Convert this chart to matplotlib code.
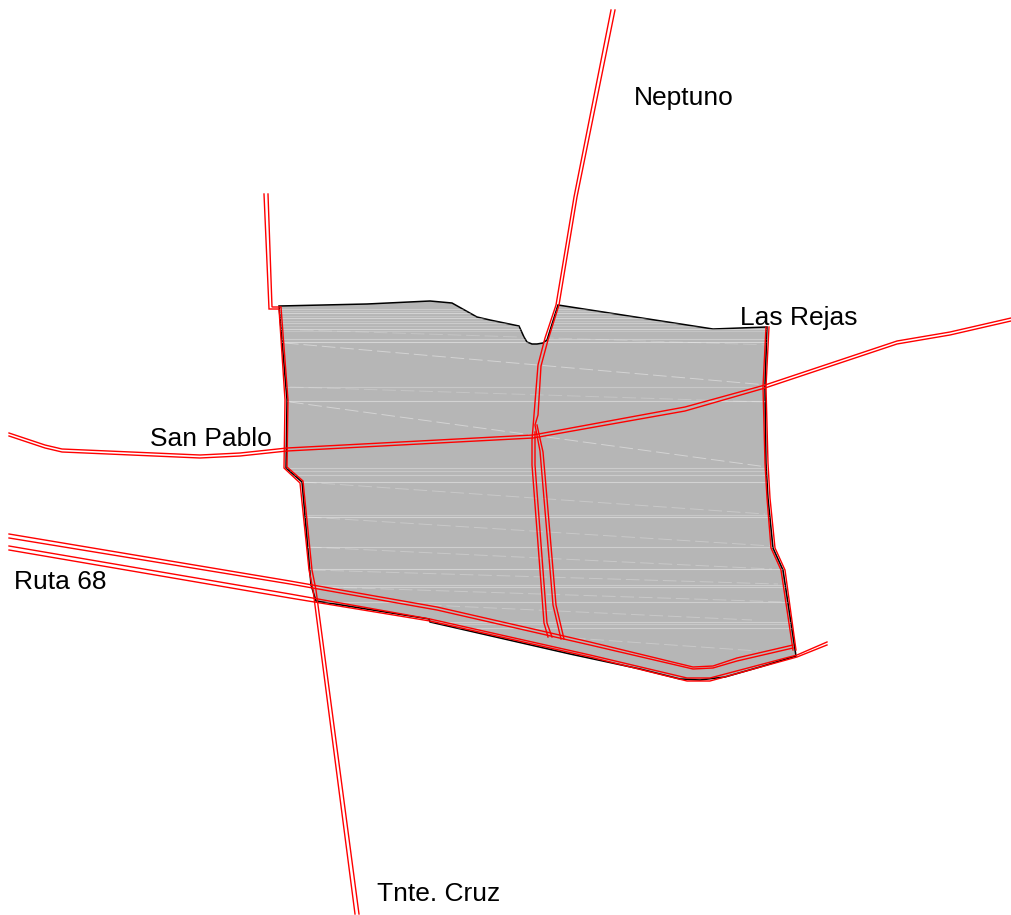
import numpy as np
import matplotlib.pyplot as plt
from matplotlib.patches import Polygon

plt.rcParams['font.family'] = ['Liberation Sans', 'DejaVu Sans']

# parcel outline
parcel = [(279,306),(367,304),(430,301),(452,303),(477,317),(490,320),(519,326),(524,337),(527,342),
          (532,344),(537,344),(543,343),(547,340),(558,305),(713,329),(767,327),(765,387),(766,463),
          (768,498),(773,548),(783,570),(796,656),(760,667),(725,677),(700,680),(680,679),(640,669),
          (570,654),(430,622),(429,619),(316,601),(311,585),(302,482),(286,468),(287,400)]

# roads: every road is two thin parallel lines
neptuno_a = [(611,10),(574,197),(556,305),(545,338),(538,365),(534,415),(532,440),(532,465),(544,623),(548,637)]
neptuno_b = [(615,10),(577,197),(559,305),(548,340),(541,366),(538,415),(535,425),(540,451),(542,475),(553,605),(561,639)]
neptuno_c = [(535,432),(535,465),(547,623),(552,637)]
neptuno_d = [(537,425),(543,452),(545,475),(556,605),(564,639)]
san_pablo_a = [(9,433),(45,445),(62,449),(200,455),(240,453),(287,448),(533,435),(685,407),(765,385),(897,341),(950,332),(1011,318)]
san_pablo_b = [(9,436),(45,448),(62,452),(200,458),(240,456),(287,451),(533,438),(685,411),(765,388),(897,344),(950,335),(1011,321)]
ruta_up_a = [(9,534),(290,581),(437,607),(590,642),(693,667),(713,666),(737,658),(793,645)]
ruta_up_b = [(9,538),(290,584),(437,610),(590,645),(693,669),(713,668),(737,661),(793,648)]
ruta_lo_a = [(9,546),(290,594),(430,619),(590,655),(687,678),(710,678),(797,655),(827,642)]
ruta_lo_b = [(9,550),(290,598),(430,621),(590,657),(687,681),(710,681),(797,657),(827,645)]
west_a = [(264,194),(269,309),(279,309),(285,400),(284,468),(300,483),(309,570),(313,590),(355,914)]
west_b = [(268,194),(272,307),(281,307),(288,400),(287,467),(303,481),(312,570),(316,590),(359,914)]
east_a = [(766,327),(763,387),(765,463),(767,498),(771,548),(781,570),(793,650)]
east_b = [(769,327),(766,387),(768,463),(770,498),(775,548),(785,570),(796,650)]
roads = [neptuno_a, neptuno_b, neptuno_c, neptuno_d, san_pablo_a, san_pablo_b,
         ruta_up_a, ruta_up_b, ruta_lo_a, ruta_lo_b, west_a, west_b, east_a, east_b]

# pale hatching gaps inside the parcel
stripe_y = [309,311,313,316,318,321,323,326,329,331,339,342,387,401,468,471,475,482,
            515,517,547,569,585,587,602,622,624,628]
stripe_alpha = [.3,.2,.4,.2,.4,.2,.3,.2,.4,.2,.3,.45,.25,.4,.3,.25,.3,.4,.25,.4,.35,.4,.3,.35,.35,.35,.25,.35]
slants = [[(285,343),(767,385)], [(290,402),(767,467)], [(290,387),(765,402)], [(300,330),(770,345)],
          [(303,482),(765,514)], [(308,517),(772,546)], [(308,547),(772,569)], [(312,570),(778,584)],
          [(325,587),(785,602)], [(428,605),(752,620)], [(572,638),(758,651)]]
slant_alpha = [.4, .4, .2, .2, .25, .25, .25, .25, .25, .25, .25]

place_names = ['Neptuno', 'Las Rejas', 'San Pablo', 'Ruta 68', 'Tnte. Cruz']
name_x = [634, 740, 150, 14, 377]
name_y = [105, 325, 446, 589, 901]

fig = plt.figure(figsize=(10.11, 9.15), dpi=100)
ax = fig.add_axes([0, 0, 1, 1])
ax.set_xlim(0, 1011)
ax.set_ylim(915, 0)
ax.axis('off')

patch = Polygon(parcel, closed=True, facecolor='#b6b6b6', edgecolor='black', linewidth=1.1, zorder=1)
ax.add_patch(patch)

for y, a in zip(stripe_y, stripe_alpha):
    line, = ax.plot([270, 800], [y, y], color='white', lw=0.8, alpha=a, zorder=2)
    line.set_clip_path(patch)

for s, a in zip(slants, slant_alpha):
    s = np.array(s)
    line, = ax.plot(s[:, 0], s[:, 1], color='white', lw=0.7, alpha=a, dashes=(14, 5), zorder=2)
    line.set_clip_path(patch)

for r in roads:
    r = np.array(r)
    ax.plot(r[:, 0], r[:, 1], color='#ff0000', lw=1.0, zorder=3, solid_joinstyle='miter')

for name, x, y in zip(place_names, name_x, name_y):
    ax.text(x, y, name, fontsize=19, color='black', ha='left', va='baseline', zorder=4)

fig.savefig('out.png', dpi=100)
